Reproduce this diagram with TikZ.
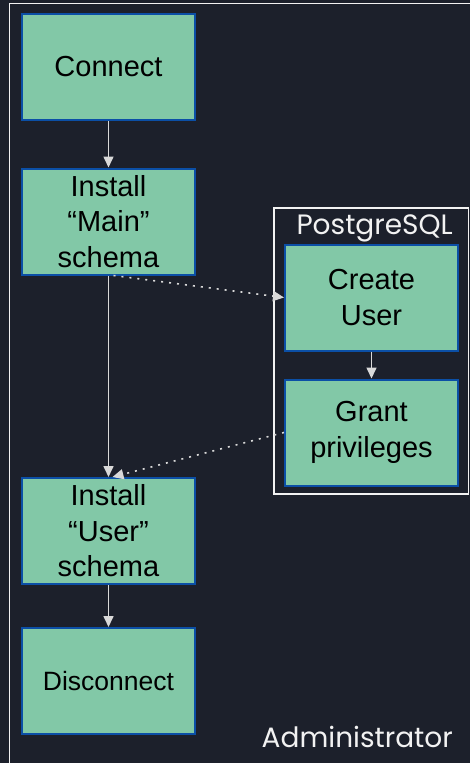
\documentclass[tikz,border=0pt]{standalone}
\usepackage{fontspec}
\setmainfont{Liberation Sans}
\newfontfamily\labelfont{Poppins}
\usetikzlibrary{arrows.meta}

\definecolor{bgdark}{HTML}{1C202B}
\definecolor{stepfill}{HTML}{82C8A7}
\definecolor{stepline}{HTML}{0B4FA6}
\definecolor{linkgray}{HTML}{D9D9D9}
\definecolor{framewhite}{HTML}{F2F2F2}

\tikzset{
  stepbox/.style={draw=stepline, fill=stepfill, line width=2pt,
    minimum width=173pt, minimum height=106pt, inner sep=0pt,
    align=center, text=black, font=\fontsize{29}{35.5}\selectfont},
  flow/.style={draw=linkgray, line width=1.6pt,
    -{Triangle[width=10pt,length=11pt]}},
  dotflow/.style={flow, dash pattern=on 2pt off 6pt},
  frame/.style={draw=framewhite, line width=1.5pt},
  framelabel/.style={text=framewhite, inner sep=0pt, anchor=base east,
    font=\labelfont\fontsize{28}{32}\selectfont}
}

\begin{document}
\begin{tikzpicture}[x=1pt,y=-1pt]
  % canvas
  \fill[bgdark] (0,0) rectangle (470,763);
  \useasboundingbox (0,0) rectangle (470,763);

  % outer Administrator frame (runs past the right and bottom edges)
  \draw[frame] (9.5,3.5) rectangle (490,790);
  \node[framelabel] (adminlbl) at (453,747) {Administrator};

  % PostgreSQL group
  \draw[frame] (274,208) rectangle (468.5,494);
  \node[framelabel] (pglbl) at (453,234) {PostgreSQL};

  % steps
  \node[stepbox] (connect) at (108.5,67) {Connect};
  \node[stepbox] (mainsch) at (108.5,221.5) {Install\\“Main”\\schema};
  \node[stepbox] (createuser) at (371.5,297.5) {Create\\User};
  \node[stepbox] (grant) at (371.5,432.5) {Grant\\privileges};
  \node[stepbox] (usersch) at (108.5,531) {Install\\“User”\\schema};
  \node[stepbox, font=\fontsize{26.5}{32}\selectfont] (disconnect) at (108.5,681) {Disconnect};

  % connectors
  \draw[flow] (connect) -- (mainsch);
  \draw[flow] (mainsch) -- (usersch);
  \draw[flow] (createuser) -- (grant);
  \draw[flow] (usersch) -- (disconnect);
  \draw[dotflow] ([xshift=5pt]mainsch.south) -- (createuser.west);
  \draw[dotflow] (grant.west) -- ([xshift=4pt]usersch.north);
\end{tikzpicture}
\end{document}
